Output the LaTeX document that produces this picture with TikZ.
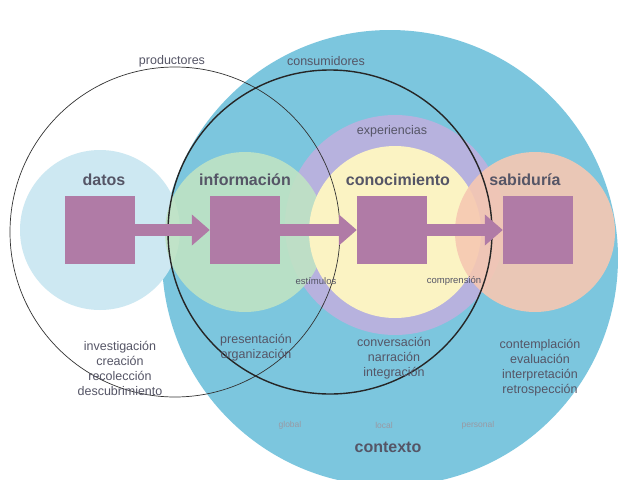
\documentclass[tikz,border=0pt]{standalone}
\usepackage{fontspec}
\setmainfont{Liberation Sans}
\usetikzlibrary{arrows.meta}
\definecolor{bigblue}{HTML}{7CC6DE}
\definecolor{lblue}{HTML}{CDE8F2}
\definecolor{lgreen}{HTML}{BFE3C4}
\definecolor{lpurp}{HTML}{B7B2DE}
\definecolor{lyel}{HTML}{FBF3C3}
\definecolor{lora}{HTML}{F6C8B2}
\definecolor{sq}{HTML}{B07BA6}
\definecolor{tx}{HTML}{555566}
\tikzset{
 sqbox/.style={fill=sq,minimum width=70pt,minimum height=68pt,inner sep=0pt},
 flow/.style={draw=sq,line width=12pt,-{Triangle[length=18pt,width=30pt]}},
 title/.style={font=\bfseries\fontsize{16}{18}\selectfont,text=tx},
 lab/.style={font=\fontsize{12.5}{15}\selectfont,text=tx,align=center},
 small/.style={font=\fontsize{9.5}{11}\selectfont,text=tx},
 tiny/.style={font=\fontsize{8.5}{10}\selectfont,text=tx!60}
}
\begin{document}
\begin{tikzpicture}[x=1pt,y=-1pt]
\useasboundingbox[fill=white] (0,0) rectangle (625,480);
\begin{scope}
\clip (0,0) rectangle (625,480);
\fill[bigblue] (390,258) circle (228);
\end{scope}
\fill[lblue] (100,230) circle (80);
\fill[lpurp] (395,225) circle (110);
\fill[lgreen,opacity=0.9] (245,232) circle (80);
\fill[lyel] (395,232) circle (86);
\fill[lora,opacity=0.9] (535,232) circle (80);
\draw[black!80,line width=0.7pt] (175,232) circle (165);
\draw[black!85,line width=1.4pt] (330,232) circle (162);
\node[sqbox] (s1) at (100,230) {};
\node[sqbox] (s2) at (245,230) {};
\node[sqbox] (s3) at (392,230) {};
\node[sqbox] (s4) at (538,230) {};
\draw[flow] (s1.east) -- (s2.west);
\draw[flow] (s2.east) -- (s3.west);
\draw[flow] (s3.east) -- (s4.west);
\node[title] (t1) at (104,180) {datos};
\node[title] (t2) at (245,180) {información};
\node[title] (t3) at (398,180) {conocimiento};
\node[title] (t4) at (525,180) {sabiduría};
\node[lab] (p) at (172,61) {productores};
\node[lab] (c) at (326,61) {consumidores};
\node[lab] (e) at (392,131) {experiencias};
\node[small] (es) at (316,281) {estímulos};
\node[small] (co) at (454,281) {comprensión};
\node[lab] (l1) at (120,368) {investigación\\creación\\recolección\\descubrimiento};
\node[lab] (l2) at (256,348) {presentación\\organización};
\node[lab] (l3) at (394,358) {conversación\\narración\\integración};
\node[lab] (l4) at (540,368) {contemplación\\evaluación\\interpretación\\retrospección};
\node[tiny] (g) at (290,425) {global};
\node[tiny] (lo) at (384,425) {local};
\node[tiny] (pe) at (478,425) {personal};
\node[title] (ct) at (388,447) {contexto};
\end{tikzpicture}
\end{document}
